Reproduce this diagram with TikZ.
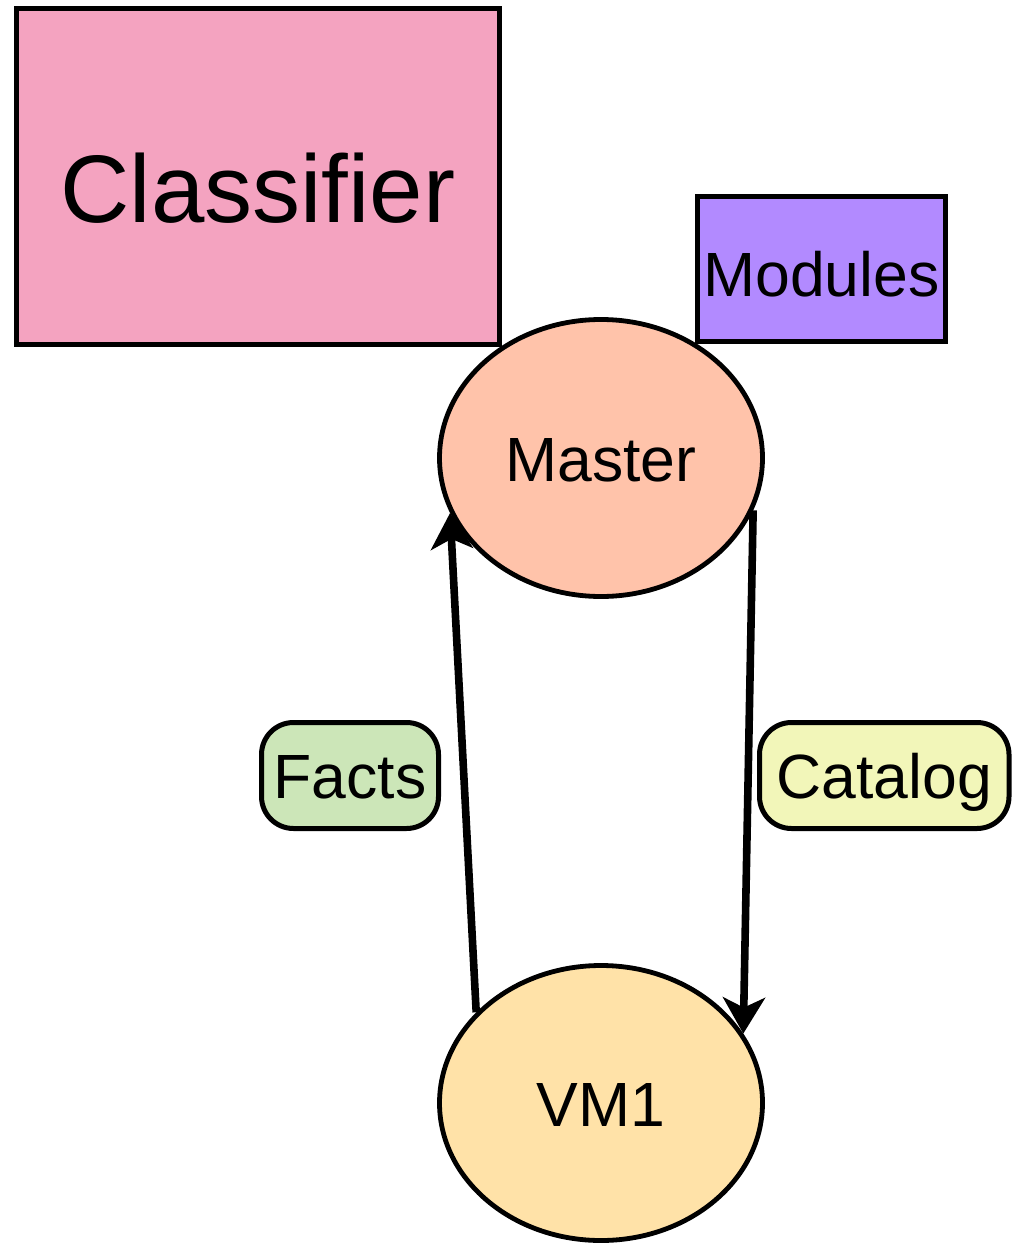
\documentclass[tikz,border=0pt]{standalone}
\usepackage{fontspec}
\setmainfont{Liberation Sans}
\usetikzlibrary{shapes.geometric,arrows.meta}

\definecolor{classpink}{RGB}{244,163,192}
\definecolor{modpurple}{RGB}{178,138,255}
\definecolor{masterpeach}{RGB}{255,195,170}
\definecolor{vmyellow}{RGB}{255,226,168}
\definecolor{factsgreen}{RGB}{204,230,184}
\definecolor{catalogyellow}{RGB}{242,246,185}

\begin{document}
\begin{tikzpicture}[x=0.5pt,y=-0.5pt,
  shapebase/.style={draw=black, line width=2.5pt, inner sep=0pt, align=center},
  bigbox/.style={shapebase, rectangle, font=\fontsize{48pt}{56pt}\selectfont},
  smallbox/.style={shapebase, rectangle, font=\fontsize{31.25pt}{37pt}\selectfont},
  pill/.style={shapebase, rectangle, rounded corners=16pt, font=\fontsize{31.25pt}{37pt}\selectfont},
  hostnode/.style={shapebase, ellipse, line width=2.4pt, font=\fontsize{31.25pt}{37pt}\selectfont},
  flow/.style={line width=3.8pt, -{Stealth[length=18pt,width=21pt,inset=5pt]}}
]
\useasboundingbox (0,0) rectangle (1012,1245);

% configuration sources
\node[bigbox, fill=classpink, minimum width=241.25pt, minimum height=168.25pt,
      text height=46.25pt, text depth=0pt] (classifier) at (257.75,176.75) {Classifier};
\node[smallbox, fill=modpurple, minimum width=124pt, minimum height=72.5pt,
      text height=28pt, text depth=0pt] (modules) at (821.5,269) {Modules};

% hosts
\node[hostnode, fill=masterpeach, minimum width=161.5pt, minimum height=138.5pt,
      text height=23pt, text depth=0pt] (master) at (601,458) {Master};
\node[hostnode, fill=vmyellow, minimum width=161.5pt, minimum height=137.5pt,
      text height=23pt, text depth=0pt] (vm) at (601,1103) {VM1};

% exchanged data
\node[pill, fill=factsgreen, minimum width=88.5pt, minimum height=53pt,
      text height=22.5pt, text depth=0pt] (facts) at (350,775.5) {Facts};
\node[pill, fill=catalogyellow, minimum width=124.75pt, minimum height=53pt,
      text height=22.5pt, text depth=0pt] (catalog) at (884.25,775.5) {Catalog};

% agent run: facts up, catalog down
\draw[flow] (vm.144) -- (master.200);
\draw[flow] (master.341) -- (vm.26);
\end{tikzpicture}
\end{document}
